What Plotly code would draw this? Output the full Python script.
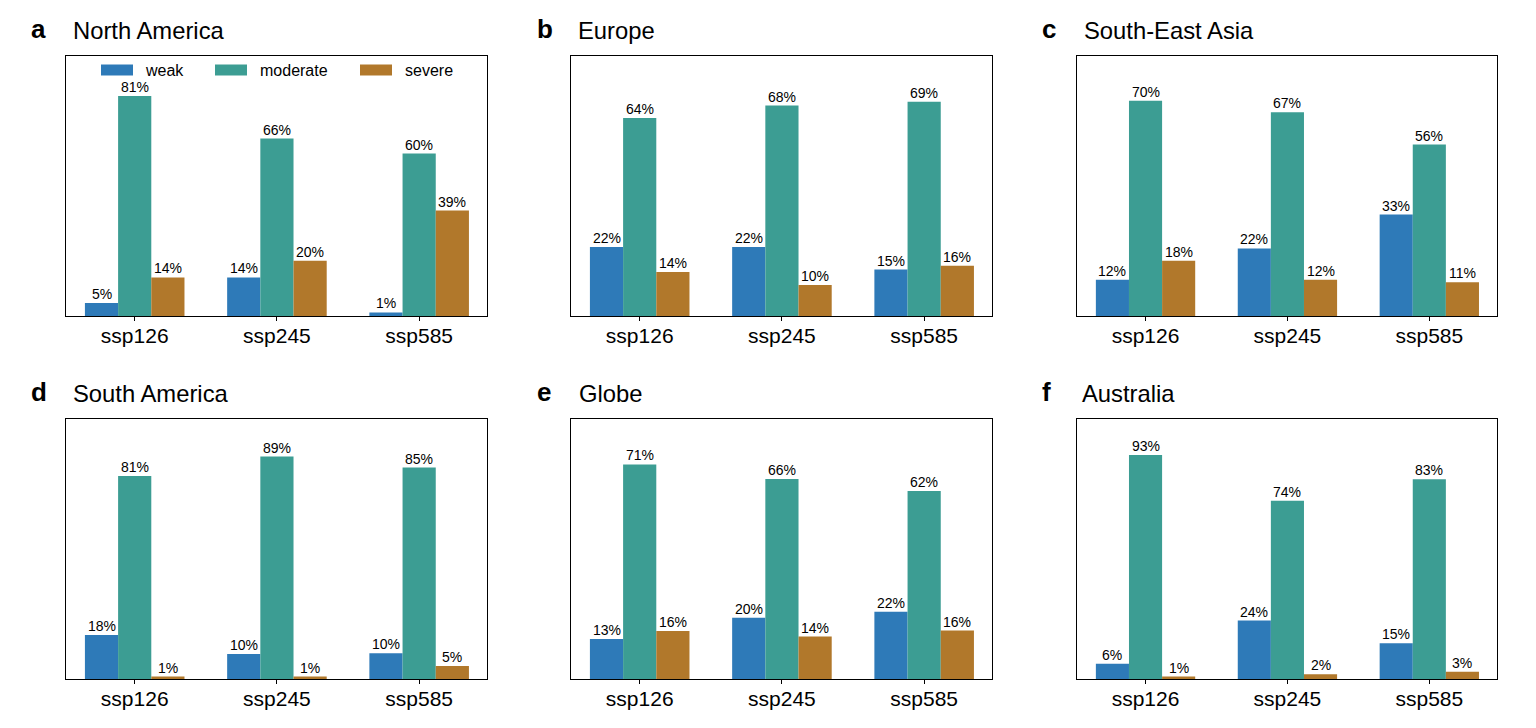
import plotly.graph_objects as go

# The page body has an 8 px margin, so the figure is 16 px smaller and coordinates shift by 8.
PAGE_W, PAGE_H, BODY = 1536, 728, 8
W, H = PAGE_W - 2 * BODY, PAGE_H - 2 * BODY

scenarios = ["ssp126", "ssp245", "ssp585"]
regions = ["North America", "Europe", "South-East Asia", "South America", "Globe", "Australia"]
letters = ["a", "b", "c", "d", "e", "f"]
weak = [[5, 14, 1], [22, 22, 15], [12, 22, 33], [18, 10, 10], [13, 20, 22], [6, 24, 15]]
moderate = [[81, 66, 60], [64, 68, 69], [70, 67, 56], [81, 89, 85], [71, 66, 62], [93, 74, 83]]
severe = [[14, 20, 39], [14, 10, 16], [18, 12, 11], [1, 1, 5], [16, 14, 16], [1, 2, 3]]
# drawn heights: slightly different from the rounded labels
weak_h = [[4.8, 14.2, 1.3], [22.3, 22.3, 15], [11.8, 22, 33], [17.6, 10, 10.3], [13.2, 20.2, 22.2], [6.3, 24.3, 14.8]]
moderate_h = [[81, 65.3, 59.8], [64, 68, 69.2], [70, 66.3, 55.8], [81.2, 89, 84.6], [70.8, 66, 62], [93, 74, 83]]
severe_h = [[14.2, 20.3, 38.8], [14.2, 10, 16.2], [18, 11.8, 11], [1, 1, 5.2], [15.8, 14, 16], [1, 2, 3]]
y_tops = [95.7, 84.0, 84.6, 104.0, 85.8, 108.0]

series_names = ["weak", "moderate", "severe"]
colors = ["#2E7AB8", "#3C9D93", "#B1782B"]
series = [(weak, weak_h), (moderate, moderate_h), (severe, severe_h)]

left = [66, 571, 1077]
right = [487, 992, 1497]
top = [56, 419]
bottom = [316, 679]
title_x = [71, 576, 1082, 71, 577, 1080]
letter_x = [29, 535, 1040, 29, 535, 1040]
legend_swatch_x = [(101, 133), (215, 247), (360, 392)]
legend_text_x = [143, 258, 403]
legend_y = (64.5, 75.5)
BAR_WIDTH = 0.7 / 3
FONT = "Liberation Sans"


def px(x):
    return (x - BODY) / W


def py(y):
    return 1 - (y - BODY) / H


fig = go.Figure()
annotations = []
shapes = []
layout = {}
for i, region in enumerate(regions):
    r, c = i // 3, i % 3
    s = "" if i == 0 else str(i + 1)
    layout[f"xaxis{s}"] = dict(
        domain=[px(left[c]), px(right[c])], anchor=f"y{s}", range=[-0.483, 2.477],
        tickmode="array", tickvals=[0, 1, 2], ticktext=scenarios,
        ticks="outside", ticklen=4, tickwidth=1, tickcolor="black", ticklabelstandoff=-3,
        showline=True, linecolor="black", linewidth=1, mirror=True,
        showgrid=False, zeroline=False, tickfont=dict(size=21, color="black", family=FONT),
    )
    layout[f"yaxis{s}"] = dict(
        domain=[py(bottom[r]), py(top[r])], anchor=f"x{s}", range=[0, y_tops[i]],
        showticklabels=False, ticks="", showline=True, linecolor="black", linewidth=1,
        mirror=True, showgrid=False, zeroline=False,
    )
    for j, (labels, heights) in enumerate(series):
        fig.add_trace(go.Bar(
            x=[0, 1, 2], y=heights[i], name=series_names[j],
            marker=dict(color=colors[j], line_width=0),
            offsetgroup=j, xaxis=f"x{s}", yaxis=f"y{s}",
            showlegend=False, hoverinfo="skip",
        ))
        for k, (label, height) in enumerate(zip(labels[i], heights[i])):
            annotations.append(dict(
                text=f"{label}%", xref=f"x{s}", yref=f"y{s}",
                x=k + (j - 1) * BAR_WIDTH, y=height, xanchor="center", yanchor="bottom",
                showarrow=False, yshift=0, borderpad=0,
                font=dict(size=14, color="black", family=FONT),
            ))
    annotations.append(dict(
        text=f"<b>{letters[i]}</b>", xref="paper", yref="paper",
        x=px(letter_x[i]), y=py(top[r] - 27), xanchor="left", yanchor="middle",
        showarrow=False, font=dict(size=26, color="black", family=FONT),
    ))
    annotations.append(dict(
        text=region, xref="paper", yref="paper",
        x=px(title_x[i]), y=py(top[r] - 26), xanchor="left", yanchor="middle",
        showarrow=False, font=dict(size=23.8, color="black", family=FONT),
    ))

for j, name in enumerate(series_names):
    x0, x1 = legend_swatch_x[j]
    shapes.append(dict(type="rect", xref="paper", yref="paper", x0=px(x0), x1=px(x1),
                       y0=py(legend_y[1]), y1=py(legend_y[0]),
                       fillcolor=colors[j], line_width=0))
    annotations.append(dict(
        text=name, xref="paper", yref="paper", x=px(legend_text_x[j]), y=py(70),
        xanchor="left", yanchor="middle", showarrow=False,
        font=dict(size=16, color="black", family=FONT),
    ))

fig.update_layout(
    width=W, height=H, margin=dict(l=0, r=0, t=0, b=0),
    paper_bgcolor="white", plot_bgcolor="white", barmode="group",
    bargap=0.3, bargroupgap=0, annotations=annotations, shapes=shapes,
    font=dict(family=FONT, color="black"), showlegend=False,
    **layout,
)
fig.write_html("out.html")
